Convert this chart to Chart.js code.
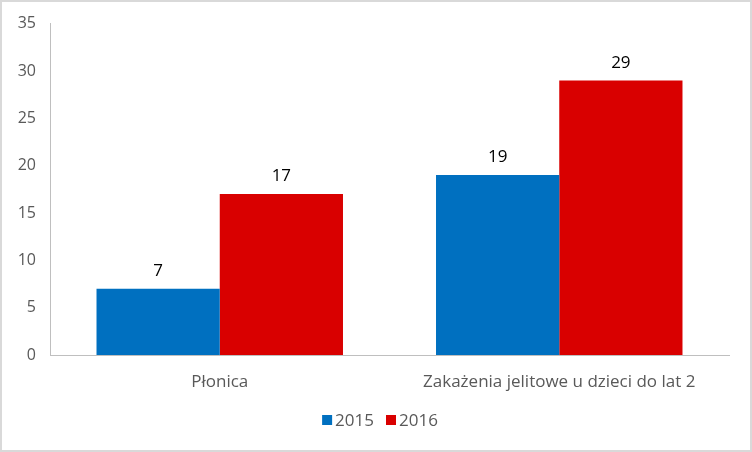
<!DOCTYPE html>
<html>
<head>
<meta charset="utf-8">
<script src="https://cdn.jsdelivr.net/npm/chart.js@4/dist/chart.umd.min.js"></script>
<style>
  html, body { margin: 0; padding: 0; background: #fff; }
  #wrap { width: 752px; height: 452px; }
</style>
</head>
<body>
<div id="wrap"><canvas id="chart" width="752" height="452"></canvas></div>
<script>
const categories = ['Płonica', 'Zakażenia jelitowe u dzieci do lat 2'];
const values2015 = [7, 19];
const values2016 = [17, 29];
const yTicks = [0, 5, 10, 15, 20, 25, 30, 35];

const colors = {
  blue: '#0070C0',
  red: '#D90000',
  text: '#595959',
  axis: '#BFBFBF',
  frame: '#D9D9D9'
};

const fontFamily = '"Open Sans", "Liberation Sans", sans-serif';

// ramka i białe tło
const framePlugin = {
  id: 'frame',
  beforeDraw(chart) {
    const ctx = chart.ctx;
    ctx.save();
    ctx.fillStyle = '#fff';
    ctx.fillRect(0, 0, chart.width, chart.height);
    ctx.strokeStyle = colors.frame;
    ctx.lineWidth = 2;
    ctx.strokeRect(1, 1, chart.width - 2, chart.height - 2);
    ctx.restore();
  }
};

// etykiety wartości nad słupkami
const valueLabels = {
  id: 'valueLabels',
  afterDatasetsDraw(chart) {
    const ctx = chart.ctx;
    ctx.save();
    ctx.fillStyle = '#000';
    ctx.font = '17px ' + fontFamily;
    ctx.textAlign = 'center';
    ctx.textBaseline = 'bottom';
    chart.data.datasets.forEach((ds, i) => {
      chart.getDatasetMeta(i).data.forEach((bar, j) => {
        ctx.fillText(ds.data[j], bar.x, bar.y - 9);
      });
    });
    ctx.restore();
  }
};

// legenda jak w Excelu: kwadrat tuż przy tekście
const excelLegend = {
  id: 'excelLegend',
  afterDraw(chart) {
    const ctx = chart.ctx;
    const box = 10, gap = 3, itemGap = 12, y = 420;
    ctx.save();
    ctx.font = '17px ' + fontFamily;
    ctx.textBaseline = 'middle';
    const items = chart.data.datasets.map(ds => ({
      text: ds.label, color: ds.backgroundColor, w: ctx.measureText(ds.label).width
    }));
    const total = items.reduce((s, it) => s + box + gap + it.w, 0) + itemGap * (items.length - 1);
    let x = 380 - total / 2;
    items.forEach(it => {
      ctx.fillStyle = it.color;
      ctx.fillRect(x, y - box / 2, box, box);
      x += box + gap;
      ctx.fillStyle = colors.text;
      ctx.fillText(it.text, x, y + 1);
      x += it.w + itemGap;
    });
    ctx.restore();
  }
};

new Chart(document.getElementById('chart'), {
  type: 'bar',
  data: {
    labels: categories,
    datasets: [
      { label: '2015', data: values2015, backgroundColor: colors.blue },
      { label: '2016', data: values2016, backgroundColor: colors.red }
    ]
  },
  options: {
    responsive: false,
    animation: false,
    layout: { padding: { top: 22, right: 23, left: 0, bottom: 51 } },
    datasets: { bar: { categoryPercentage: 0.726, barPercentage: 1 } },
    plugins: {
      legend: { display: false },
      tooltip: { enabled: false }
    },
    scales: {
      x: {
        grid: { display: false, drawTicks: false },
        border: { color: colors.axis, width: 1 },
        ticks: { color: colors.text, font: { family: fontFamily, size: 17 }, padding: 17 },
        afterFit(scale) { scale.height = 46; }
      },
      y: {
        min: 0,
        max: 35,
        afterBuildTicks(scale) { scale.ticks = yTicks.map(v => ({ value: v })); },
        grid: { display: false, drawTicks: false },
        border: { color: colors.axis, width: 1 },
        ticks: { color: colors.text, font: { family: fontFamily, size: 16 }, padding: 14 },
        afterFit(scale) { scale.width = 50; }
      }
    }
  },
  plugins: [framePlugin, valueLabels, excelLegend]
});
</script>
</body>
</html>
